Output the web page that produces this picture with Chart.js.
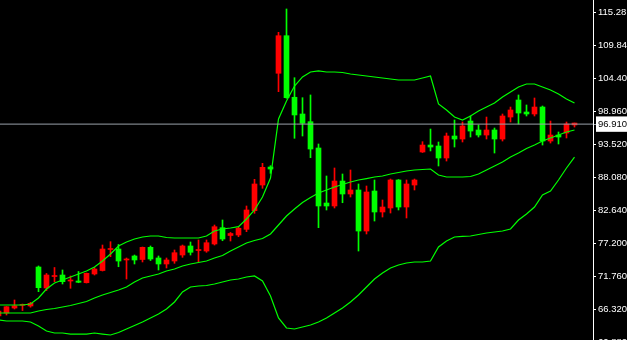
<!DOCTYPE html>
<html>
<head>
<meta charset="utf-8">
<script src="https://cdn.jsdelivr.net/npm/chart.js@4.4.0/dist/chart.umd.min.js"></script>
<style>
  html, body { margin: 0; padding: 0; background: #000; overflow: hidden; }
  #wrap { width: 627px; height: 352px; }
</style>
</head>
<body>
<div id="wrap"><canvas id="chart" width="627" height="352"></canvas></div>
<script>
// candles, oldest first (first one is cut by the left edge)
const opens = [65.24, 65.74, 66.56, 67.01, 66.90, 73.33, 69.87, 71.76, 72.01, 71.02,
  71.02, 70.74, 72.18, 72.75, 76.22, 76.30, 74.49, 75.15, 74.57, 76.58,
  74.82, 73.83, 74.32, 75.31, 76.80, 76.05, 75.97, 77.13, 79.82, 78.53,
  78.61, 79.55, 82.62, 86.86, 89.83, 105.30, 111.50, 101.34, 98.58, 97.31,
  92.97, 83.89, 83.40, 87.52, 85.38, 86.04, 79.27, 85.87, 82.41, 83.07,
  87.69, 83.23, 86.86, 92.31, 93.46, 93.30, 91.32, 94.95, 94.45, 97.42,
  95.94, 95.11, 95.94, 94.45, 98.08, 100.89, 98.91, 98.58, 99.73, 94.12,
  95.11, 95.44, 96.77];
const highs = [66.23, 66.81, 67.89, 67.22, 67.51, 73.50, 72.26, 73.25, 72.84, 71.85,
  72.59, 72.34, 73.25, 76.96, 77.51, 77.04, 74.82, 75.31, 76.63, 76.80,
  75.15, 74.82, 76.14, 76.96, 77.46, 77.79, 77.79, 80.26, 81.09, 79.03,
  79.98, 83.40, 87.80, 90.44, 90.05, 112.06, 115.91, 104.57, 101.27, 101.72,
  93.63, 88.35, 89.67, 88.68, 89.34, 87.03, 86.70, 87.69, 84.39, 87.85,
  87.77, 87.69, 87.85, 94.01, 96.10, 93.96, 95.44, 97.59, 97.26, 98.25,
  96.77, 98.08, 96.27, 98.58, 99.73, 101.72, 100.07, 101.22, 99.90, 97.42,
  95.61, 97.26, 97.09];
const lows = [65.08, 65.41, 66.40, 66.15, 66.70, 69.26, 69.45, 70.91, 70.53, 69.82,
  70.74, 70.69, 72.01, 72.67, 75.03, 73.38, 71.35, 73.83, 74.16, 74.40,
  72.84, 73.17, 73.94, 74.93, 75.31, 74.21, 75.76, 76.96, 77.67, 77.62,
  78.33, 79.16, 82.19, 86.32, 88.79, 102.26, 101.17, 94.57, 94.95, 91.37,
  79.82, 82.74, 83.07, 83.94, 84.88, 75.97, 78.78, 80.92, 81.58, 82.24,
  82.74, 81.42, 86.04, 92.23, 92.48, 90.00, 90.82, 93.13, 93.96, 94.78,
  94.78, 94.45, 92.14, 94.12, 97.26, 96.93, 98.25, 98.25, 93.46, 93.79,
  93.63, 94.62, 96.43];
const closes = [66.07, 66.78, 66.94, 67.11, 67.34, 69.92, 72.01, 71.93, 70.91, 71.19,
  70.81, 72.29, 73.00, 76.30, 76.38, 74.32, 74.65, 74.49, 76.58, 74.65,
  73.83, 74.49, 75.69, 76.80, 75.76, 76.22, 77.34, 79.98, 77.95, 78.86,
  79.72, 82.74, 87.03, 89.78, 89.50, 111.50, 101.27, 98.42, 97.05, 92.80,
  83.40, 83.40, 87.52, 85.38, 86.04, 79.27, 85.71, 82.41, 83.23, 87.69,
  83.23, 87.03, 87.69, 93.46, 93.13, 91.32, 94.95, 94.45, 96.60, 95.77,
  95.11, 95.94, 94.45, 98.25, 99.24, 98.74, 98.58, 99.73, 94.12, 95.11,
  94.78, 96.93, 97.09];

// bollinger bands
const upperBand = [67.06, 67.06, 67.06, 67.06, 67.22, 68.22, 69.70, 70.69, 71.19, 71.68,
  72.18, 72.67, 73.33, 74.32, 75.48, 76.80, 77.46, 77.95, 78.28, 78.45,
  78.45, 78.20, 78.12, 78.12, 78.12, 78.12, 78.45, 79.27, 79.60, 79.77,
  79.98, 81.25, 82.74, 84.88, 88.02, 97.75, 100.72, 103.20, 104.69, 105.51,
  105.68, 105.51, 105.51, 105.43, 105.18, 105.02, 104.85, 104.69, 104.52, 104.36,
  104.19, 104.19, 104.19, 104.52, 104.85, 100.23, 99.24, 98.08, 97.59, 98.25,
  99.07, 99.73, 100.39, 101.38, 102.21, 103.03, 103.53, 103.53, 103.03, 102.54,
  101.88, 101.05, 100.39];
const middleBand = [65.74, 65.74, 65.74, 65.74, 65.74, 66.07, 66.32, 66.48, 66.73, 66.98,
  67.31, 67.64, 68.22, 68.71, 69.12, 69.54, 70.03, 70.86, 71.52, 71.85,
  72.18, 72.67, 73.00, 73.50, 73.83, 74.07, 74.32, 74.82, 75.23, 75.97,
  76.63, 77.29, 77.70, 78.03, 78.78, 80.26, 81.75, 82.90, 83.97, 84.80,
  85.54, 86.04, 86.53, 86.95, 87.36, 87.69, 87.93, 88.18, 88.35, 88.68,
  88.93, 89.17, 89.34, 89.42, 89.50, 88.51, 88.18, 88.18, 88.18, 88.27,
  88.68, 89.34, 90.00, 90.66, 91.48, 92.14, 92.89, 93.46, 94.12, 94.62,
  95.11, 95.61, 95.94];
const lowerBand = [64.61, 64.42, 64.42, 64.42, 64.26, 63.59, 62.77, 62.44, 62.44, 62.27,
  62.27, 62.27, 62.44, 62.27, 62.11, 62.52, 63.10, 63.68, 64.26, 64.92,
  65.58, 66.40, 67.56, 69.21, 70.03, 70.20, 70.28, 70.53, 70.86, 71.19,
  71.35, 71.68, 71.85, 71.02, 68.54, 64.92, 63.27, 63.10, 63.43, 63.76,
  64.26, 64.92, 65.74, 66.56, 67.56, 68.71, 70.03, 71.35, 72.34, 73.17,
  73.66, 73.99, 74.16, 74.16, 74.32, 76.63, 77.62, 78.28, 78.37, 78.45,
  78.69, 78.94, 79.11, 79.27, 79.60, 81.09, 82.08, 83.23, 85.21, 85.87,
  87.69, 89.67, 91.48];

const bidPrice = 96.91;
const tickValues = [115.28, 109.84, 104.40, 98.96, 96.91, 93.52, 88.08, 82.64, 77.20, 71.76, 66.32, 60.88];
const tickLabels = ['115.28', '109.84', '104.40', '98.960', '96.910', '93.520', '88.080', '82.640', '77.200', '71.760', '66.320', '60.880'];

const UP = '#ff0000', DOWN = '#00ff00', BAND = '#00ff00', BID = '#9aa2aa';
const yMax = 117.392, yMin = 59.306;
const xMin = 0.1875, xMax = 74.3125;

const idx = opens.map((_, i) => i);
const candleColors = idx.map(i => closes[i] >= opens[i] ? UP : DOWN);
const band = (arr) => ({
  type: 'line', data: arr.map((v, i) => ({ x: i, y: v })), borderColor: BAND, borderWidth: 1.2,
  pointRadius: 0, tension: 0, fill: false, order: 1
});

new Chart(document.getElementById('chart'), {
  type: 'bar',
  data: {
    datasets: [
      { type: 'line', data: [{ x: xMin, y: bidPrice }, { x: xMax, y: bidPrice }], borderColor: BID, borderWidth: 1, pointRadius: 0, order: 0 },
      band(upperBand), band(middleBand), band(lowerBand),
      { data: idx.map(i => ({ x: i, y: [opens[i], closes[i]] })), backgroundColor: candleColors, barThickness: 5, minBarLength: 1, grouped: false, order: 2 },
      { data: idx.map(i => ({ x: i, y: [lows[i], highs[i]] })), backgroundColor: candleColors, barThickness: 1, grouped: false, order: 3 }
    ]
  },
  options: {
    responsive: false,
    animation: false,
    devicePixelRatio: 1,
    layout: { padding: 0 },
    plugins: { legend: { display: false }, tooltip: { enabled: false } },
    scales: {
      x: { type: 'linear', min: xMin, max: xMax, offset: false, display: false },
      y: {
        position: 'right', min: yMin, max: yMax,
        afterBuildTicks: s => { s.ticks = tickValues.slice().sort((a, b) => a - b).map(v => ({ value: v })); },
        afterFit: s => { s.width = 34; s.paddingTop = 0; s.paddingBottom = 0; },
        border: { display: true, color: '#ffffff', width: 1 },
        grid: { drawOnChartArea: false, drawTicks: true, tickLength: 3, color: c => c.tick && c.tick.value === bidPrice ? BID : '#ffffff' },
        ticks: {
          autoSkip: false, padding: 2,
          color: c => c.tick && c.tick.value === bidPrice ? '#000000' : '#ffffff',
          font: { family: 'Liberation Sans', size: 9.5 },
          callback: v => tickLabels[tickValues.indexOf(v)],
          showLabelBackdrop: c => !!(c.tick && c.tick.value === bidPrice),
          backdropColor: '#ffffff',
          backdropPadding: { top: 2, bottom: 2, left: 2, right: 4 }
        }
      }
    }
  }
});
</script>
</body>
</html>
